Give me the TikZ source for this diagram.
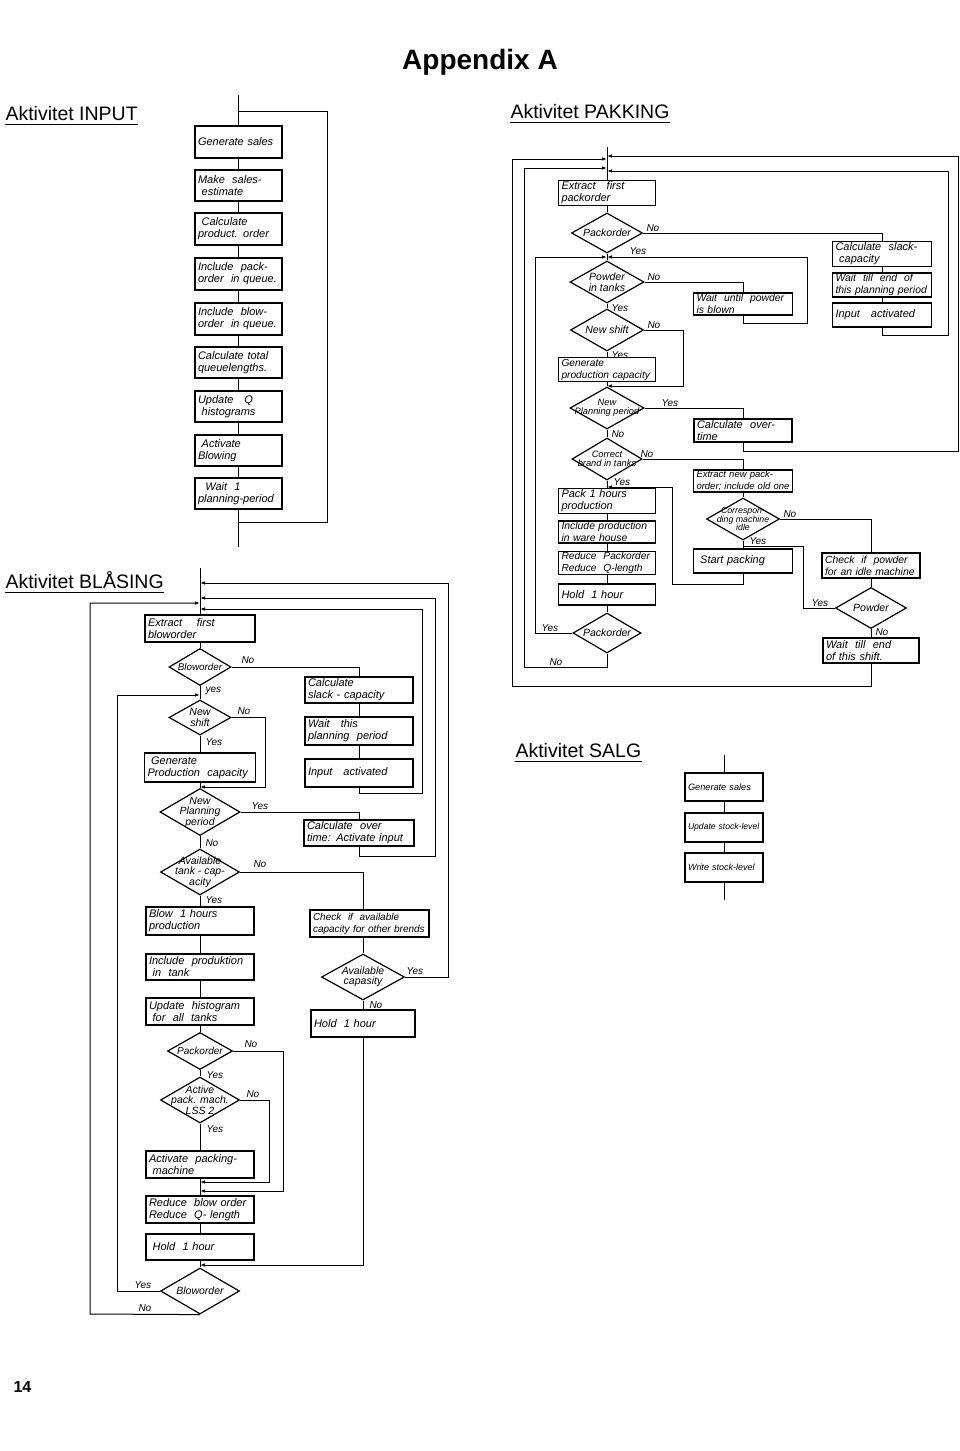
\documentclass[tikz,border=0pt]{standalone}
\usepackage{fontspec}
\setmainfont{Liberation Sans}
\newfontfamily\hand{Liberation Sans}
\usetikzlibrary{shapes.geometric,arrows.meta}
\newcommand\fs[1]{\hand\itshape\fontsize{#1}{12}\selectfont}
\newcommand\ds[1]{\hand\itshape\fontsize{#1}{#1}\selectfont}
\tikzset{
 arr/.style={-{Latex[length=5pt,width=3.5pt]}},
 box/.style={draw, line width=1.2pt, rectangle, inner xsep=3pt, inner ysep=1pt, align=left, font=\fs{11}},
 bx/.code 2 args={\pgfmathsetmacro\bxw{#1-6}\edef\bxtmp{\noexpand\tikzset{box,text width=\bxw pt,minimum height=#2pt}}\bxtmp},
 dia/.style={draw, line width=1.2pt, diamond, inner sep=0pt},
 dm/.style 2 args={dia, minimum width=#1pt, minimum height=#2pt},
 dtext/.style={align=center, inner sep=0pt, font=\ds{10.5}},
 lbl/.style={inner sep=1pt, font=\ds{10}},
 ttl/.style={inner sep=0pt, anchor=base west, font=\fontsize{19.5}{22}\selectfont},
}
\begin{document}
\begin{tikzpicture}[x=1pt,y=-1pt,line width=1pt]
\fill[white] (0,0) rectangle (960,1451);
\useasboundingbox (0,0) rectangle (960,1451);

% ---------- headings ----------
\node[anchor=base, inner sep=0pt, font=\bfseries\fontsize{28}{32}\selectfont] (app) at (480,69) {Appendix A};
\node[ttl] (tIn) at (5,120) {Aktivitet INPUT};
\node[ttl] (tPk) at (510,118) {Aktivitet PAKKING};
\node[ttl] (tBl) at (5,588) {Aktivitet BLÅSING};
\node[ttl] (tSa) at (515,757) {Aktivitet SALG};
\foreach \t in {tIn,tPk,tBl,tSa}
  \draw[line width=0.8pt] ([yshift=-4pt]\t.base west) -- ([yshift=-4pt]\t.base east);
\node[anchor=base west, inner sep=0pt, font=\bfseries\fontsize{16}{18}\selectfont] (pg) at (13,1392) {14};

% ---------- INPUT ----------
\coordinate (iTop) at (238.5,95);
\coordinate (iJ) at (238.5,111);
\coordinate (iR) at (327,111);
\coordinate (iRB) at (327,522);
\coordinate (iJB) at (238.5,522);
\coordinate (iEnd) at (238.5,547);
\node[bx={87}{32}] (i1) at (238.5,142) {Generate sales};
\node[bx={87}{31}] (i2) at (238.5,185.5) {Make \ sales-\\ \ estimate};
\node[bx={87}{32}] (i3) at (238.5,229) {\ Calculate\\product. order};
\node[bx={87}{32}] (i4) at (238.5,274) {Include \ pack-\\order \ in queue.};
\node[bx={87}{32}] (i5) at (238.5,319) {Include \ blow-\\order \ in queue.};
\node[bx={87}{31}] (i6) at (238.5,362.5) {Calculate total\\queuelengths.};
\node[bx={87}{31}] (i7) at (238.5,406.5) {Update \ \ Q\\ \ histograms};
\node[bx={87}{31}] (i8) at (238.5,450.5) {\ Activate\\ Blowing};
\node[bx={87}{31}] (i9) at (238.5,493.5) {\ \ Wait \ 1\\planning-period};
\draw (iTop) -- (i1.north);
\draw (iJ) -- (iR) -- (iRB) -- (iJB);
\foreach \a/\b in {i1/i2,i2/i3,i3/i4,i4/i5,i5/i6,i6/i7,i7/i8,i8/i9}
  \draw (\a.south) -- (\b.north);
\draw (i9.south) -- (iEnd);

% ---------- PAKKING ----------
\coordinate (pTop) at (607,147);
\coordinate (pJ1) at (607,156);
\coordinate (pJ2) at (607,159);
\coordinate (pJ3) at (607,168);
\coordinate (pJ4) at (607,171);
\coordinate (pJ5) at (607,257);
\coordinate (pJ6) at (607,386);
\coordinate (pJ7) at (607,487);
\coordinate (pJ8) at (743,546);
\node[bx={97}{24}] (p1) at (607,193) {Extract \ \ first\\packorder};
\node[dm={71}{40}] (pd1) at (607,233) {};
\node[dtext] (pd1t) at (pd1) {Packorder};
\node[bx={99}{24}] (pS1) at (882,254) {Calculate \ slack-\\ \ capacity};
\node[bx={99}{24}, font=\fs{10.4}] (pS2) at (882,285) {Wait \ till \ end \ of\\this planning period};
\node[bx={99}{24}] (pS3) at (882,315) {Input \ \ activated};
\node[dm={74}{42}] (pd2) at (607,282) {};
\node[dtext] (pd2t) at (pd2) {Powder\\in tanks};
\node[bx={99}{22}, font=\fs{10.4}] (pW) at (743,304) {Wait \ until \ powder\\is blown};
\node[dm={73}{42}] (pd3) at (607,330) {};
\node[dtext] (pd3t) at (pd3) {New shift};
\node[bx={97}{23}, font=\fs{10.2}] (pG) at (607,369.5) {Generate\\production capacity};
\node[dm={74}{42}] (pd4) at (607,408) {};
\node[dtext, font=\ds{9.3}] (pd4t) at (pd4) {New\\Planning period};
\node[bx={98}{23}] (pO) at (743,430.5) {Calculate \ over-\\time};
\node[dm={70}{42}] (pd5) at (607,459) {};
\node[dtext, font=\ds{9.3}] (pd5t) at (pd5) {Correct\\brand in tanks};
\node[bx={99}{22}, font=\fs{9.5}] (pX) at (743,481) {Extract new pack-\\order; include old one};
\node[dm={73}{42}] (pd6) at (743,519) {};
\node[dtext, font=\ds{8.8}] (pd6t) at (pd6) {Correspon-\\ding machine\\idle};
\node[bx={98}{25}, font=\fs{10.4}] (pC) at (871,565.5) {Check \ if \ powder\\for an idle machine};
\node[dm={71}{41}] (pd7) at (871,608) {};
\node[dtext] (pd7t) at (pd7) {Powder};
\node[bx={96}{25}] (pE) at (871,650.5) {Wait \ till \ end\\of this shift.};
\node[bx={99}{24}] (pSt) at (743,561) {\ Start packing};
\node[bx={97}{22}] (pP1) at (607,501) {Pack 1 hours\\production};
\node[bx={97}{22}, font=\fs{10.4}] (pP2) at (607,532) {Include production\\in ware house};
\node[bx={97}{22}, font=\fs{10.2}] (pP3) at (607,563) {Reduce \ Packorder\\Reduce \ Q-length};
\node[bx={97}{21}] (pP4) at (607,594.5) {Hold \ 1 hour};
\node[dm={68}{40}] (pd8) at (607,633) {};
\node[dtext] (pd8t) at (pd8) {Packorder};

\coordinate (pA1) at (958,156);
\coordinate (pA2) at (958,451);
\coordinate (pA3) at (743,451);
\coordinate (pB1) at (948,171);
\coordinate (pB2) at (948,335);
\coordinate (pB3) at (882,335);
\coordinate (pC0) at (871,686);
\coordinate (pC1) at (512,686);
\coordinate (pC2) at (512,159);
\coordinate (pD1) at (524,667);
\coordinate (pD2) at (524,168);
\coordinate (pE1) at (535,633);
\coordinate (pE2) at (535,257);
\coordinate (pF1) at (743,323);
\coordinate (pF2) at (807,323);
\coordinate (pF3) at (807,257);
\coordinate (pG1) at (683,330);
\coordinate (pG2) at (683,386);
\coordinate (pH1) at (803,608);
\coordinate (pH2) at (803,546);
\coordinate (pI1) at (743,584);
\coordinate (pI2) at (672,584);
\coordinate (pI3) at (672,487);

\draw (pTop) -- (p1.north);
\draw (p1.south) -- (pd1.north);
\draw (pd1.east) -| (pS1.north);
\draw (pS1.south) -- (pS2.north);
\draw (pS2.south) -- (pS3.north);
\draw[arr] (pS3.south) -- (pB3) -- (pB2) -- (pB1) -- (pJ4);
\draw[arr] (pO.south) -- (pA3) -- (pA2) -- (pA1) -- (pJ1);
\draw[arr] (pE.south) -- (pC0) -- (pC1) -- (pC2) -- (pJ2);
\draw[arr] (pd8.south) |- (pD1) -- (pD2) -- (pJ3);
\draw[arr] (pd8.west) -- (pE1) -- (pE2) -- (pJ5);
\draw (pd1.south) -- (pd2.north);
\draw (pd2.east) -| (pW.north);
\draw[arr] (pW.south) -- (pF1) -- (pF2) -- (pF3) -- (pJ5);
\draw (pd2.south) -- (pd3.north);
\draw[arr] (pd3.east) -- (pG1) -- (pG2) -- (pJ6);
\draw (pd3.south) -- (pG.north);
\draw (pG.south) -- (pd4.north);
\draw (pd4.east) -| (pO.north);
\draw (pd4.south) -- (pd5.north);
\draw (pd5.east) -| (pX.north);
\draw (pX.south) -- (pd6.north);
\draw (pd6.east) -| (pC.north);
\draw (pC.south) -- (pd7.north);
\draw (pd7.south) -- (pE.north);
\draw (pd7.west) -- (pH1) -- (pH2) -- (pJ8);
\draw (pd6.south) -- (pSt.north);
\draw[arr] (pSt.south) -- (pI1) -- (pI2) -- (pI3) -- (pJ7);
\draw (pd5.south) -- (pP1.north);
\draw (pP1.south) -- (pP2.north);
\draw (pP2.south) -- (pP3.north);
\draw (pP3.south) -- (pP4.north);
\draw (pP4.south) -- (pd8.north);

\node[lbl, anchor=south west] (lp1) at (645,233) {No};
\node[lbl, anchor=south west] (lp2) at (628,256) {Yes};
\node[lbl, anchor=south west] (lp3) at (646,282) {No};
\node[lbl, anchor=north west] (lp4) at (610,303) {Yes};
\node[lbl, anchor=south west] (lp5) at (646,330) {No};
\node[lbl, anchor=north west] (lp6) at (610,350) {Yes};
\node[lbl, anchor=south west] (lp7) at (660,408) {Yes};
\node[lbl, anchor=north west] (lp8) at (610,429) {No};
\node[lbl, anchor=south west] (lp9) at (639,459) {No};
\node[lbl, anchor=south west] (lp10) at (612,487) {Yes};
\node[lbl, anchor=south west] (lp11) at (782,519) {No};
\node[lbl, anchor=south west] (lp12) at (748,546) {Yes};
\node[lbl, anchor=south west] (lp13) at (810,608) {Yes};
\node[lbl, anchor=north west] (lp14) at (874,627) {No};
\node[lbl, anchor=south west] (lp15) at (540,633) {Yes};
\node[lbl, anchor=south west] (lp16) at (548,667) {No};

% ---------- SALG ----------
\coordinate (sTop) at (724,755);
\coordinate (sEnd) at (724,900);
\node[bx={78}{28}, font=\fs{9.2}] (s1) at (724,787) {Generate sales};
\node[bx={78}{29}, font=\fs{8.6}] (s2) at (724,827.5) {Update stock-level};
\node[bx={78}{29}, font=\fs{9}] (s3) at (724,867.5) {Write stock-level};
\draw (sTop) -- (s1.north);
\draw (s1.south) -- (s2.north);
\draw (s2.south) -- (s3.north);
\draw (s3.south) -- (sEnd);

% ---------- BLASING ----------
\coordinate (bTop) at (200,568);
\coordinate (bJ1) at (200,583);
\coordinate (bJ2) at (200,598);
\coordinate (bJ3) at (200,603);
\coordinate (bJ4) at (200,609);
\coordinate (bJ5) at (200,695);
\coordinate (bJ6) at (200,787);
\coordinate (bJ7) at (200,1182);
\coordinate (bJ8) at (200,1191);
\coordinate (bJ9) at (200,1265);
\node[bx={110}{27}] (b1) at (200,628.5) {Extract \ \ \ first\\bloworder};
\node[dm={62}{37}] (bd1) at (200,667) {};
\node[dtext, font=\ds{9.8}] (bd1t) at (bd1) {Bloworder};
\node[bx={108}{26}] (bS1) at (359,690) {Calculate\\slack - capacity};
\node[bx={108}{28}] (bS2) at (359,731) {Wait \ \ this\\planning \ period};
\node[bx={108}{28}] (bS3) at (359,773) {Input \ \ activated};
\node[dm={62}{35}] (bd2) at (200,717.5) {};
\node[dtext] (bd2t) at (bd2) {New\\shift};
\node[bx={111}{29}] (bG) at (200,767.5) {\ Generate\\Production \ capacity};
\node[dm={80}{47}] (bd3) at (200,812) {};
\node[dtext] (bd3t) at (bd3) {New\\Planning\\period};
\node[bx={110}{26}] (bO) at (359,833) {Calculate \ over\\time: Activate input};
\node[dm={79}{46}] (bd4) at (200,872) {};
\node[dtext] (bd4t) at (bd4) {Available\\tank - cap-\\acity};
\node[bx={119}{27}, font=\fs{10}] (bC) at (369.5,923.5) {Check \ if \ available\\capacity for other brends};
\node[bx={108}{28}] (bB) at (200,921) {Blow \ 1 hours\\production};
\node[bx={108}{26}] (bI) at (200,967) {Include \ produktion\\ \ in \ tank};
\node[bx={108}{27}] (bU) at (200,1011.5) {Update \ histogram\\ \ for \ all \ tanks};
\node[dm={65}{37}] (bd5) at (200,1051) {};
\node[dtext, font=\ds{10}] (bd5t) at (bd5) {Packorder};
\node[dm={79}{46}] (bd6) at (200,1100) {};
\node[dtext] (bd6t) at (bd6) {Active\\pack. mach.\\LSS 2};
\node[bx={108}{27}] (bA) at (200,1164.5) {Activate \ packing-\\ \ machine};
\node[bx={108}{27}] (bR) at (200,1209.5) {Reduce \ blow order\\Reduce \ Q- length};
\node[bx={108}{26}] (bH) at (200,1247) {\ Hold \ 1 hour};
\node[dm={79}{46}] (bd7) at (200,1291) {};
\node[dtext] (bd7t) at (bd7) {Bloworder};
\node[dm={83}{46}] (bAc) at (363,977) {};
\node[dtext] (bAct) at (bAc) {Available\\capasity};
\node[bx={104}{27}] (bH2) at (363,1023.5) {Hold \ 1 hour};

\coordinate (bw1) at (359,793);
\coordinate (bw2) at (422,793);
\coordinate (bw3) at (422,609);
\coordinate (bx1) at (265,717.5);
\coordinate (bx2) at (265,787);
\coordinate (by1) at (359,856);
\coordinate (by2) at (435,856);
\coordinate (by3) at (435,598);
\coordinate (bz1) at (448,977);
\coordinate (bz2) at (448,583);
\coordinate (bp1) at (283,1051);
\coordinate (bp2) at (283,1191);
\coordinate (bq1) at (269,1100);
\coordinate (bq2) at (269,1182);
\coordinate (br1) at (117,1291);
\coordinate (br2) at (117,695);
\coordinate (bs1) at (90,1314);
\coordinate (bs2) at (90,603);

\draw (bTop) -- (b1.north);
\draw (b1.south) -- (bd1.north);
\draw (bd1.east) -| (bS1.north);
\draw (bS1.south) -- (bS2.north);
\draw (bS2.south) -- (bS3.north);
\draw[arr] (bS3.south) -- (bw1) -- (bw2) -- (bw3) -- (bJ4);
\draw (bd1.south) -- (bd2.north);
\draw[arr] (bd2.east) -- (bx1) -- (bx2) -- (bJ6);
\draw (bd2.south) -- (bG.north);
\draw (bG.south) -- (bd3.north);
\draw (bd3.east) -| (bO.north);
\draw[arr] (bO.south) -- (by1) -- (by2) -- (by3) -- (bJ2);
\draw (bd3.south) -- (bd4.north);
\draw (bd4.east) -| (bC.north -| bAc.north);
\draw (bC.south -| bAc.north) -- (bAc.north);
\draw[arr] (bAc.east) -- (bz1) -- (bz2) -- (bJ1);
\draw (bAc.south) -- (bH2.north);
\draw[arr] (bH2.south) |- (bJ9);
\draw (bd4.south) -- (bB.north);
\foreach \a/\b in {bB/bI,bI/bU,bU/bd5,bd5/bd6,bd6/bA,bA/bR,bR/bH,bH/bd7}
  \draw (\a.south) -- (\b.north);
\draw[arr] (bd5.east) -- (bp1) -- (bp2) -- (bJ8);
\draw[arr] (bd6.east) -- (bq1) -- (bq2) -- (bJ7);
\draw[arr] (bd7.west) -- (br1) -- (br2) -- (bJ5);
\draw[arr] (bd7.south) -- (bs1) -- (bs2) -- (bJ3);

\node[lbl, anchor=south west] (lb1) at (240,665) {No};
\node[lbl, anchor=north west] (lb2) at (204,686) {yes};
\node[lbl, anchor=south west] (lb3) at (236,716) {No};
\node[lbl, anchor=north west] (lb4) at (204,737) {Yes};
\node[lbl, anchor=south west] (lb5) at (250,811) {Yes};
\node[lbl, anchor=north west] (lb6) at (204,838) {No};
\node[lbl, anchor=south west] (lb7) at (252,869) {No};
\node[lbl, anchor=north west] (lb8) at (204,895) {Yes};
\node[lbl, anchor=south west] (lb9) at (243,1049) {No};
\node[lbl, anchor=north west] (lb10) at (205,1070) {Yes};
\node[lbl, anchor=south west] (lb11) at (245,1099) {No};
\node[lbl, anchor=north west] (lb12) at (205,1124) {Yes};
\node[lbl, anchor=south west] (lb13) at (133,1290) {Yes};
\node[lbl, anchor=south west] (lb14) at (137,1313) {No};
\node[lbl, anchor=south west] (lb15) at (405,976) {Yes};
\node[lbl, anchor=north west] (lb16) at (368,1000) {No};
\end{tikzpicture}
\end{document}
